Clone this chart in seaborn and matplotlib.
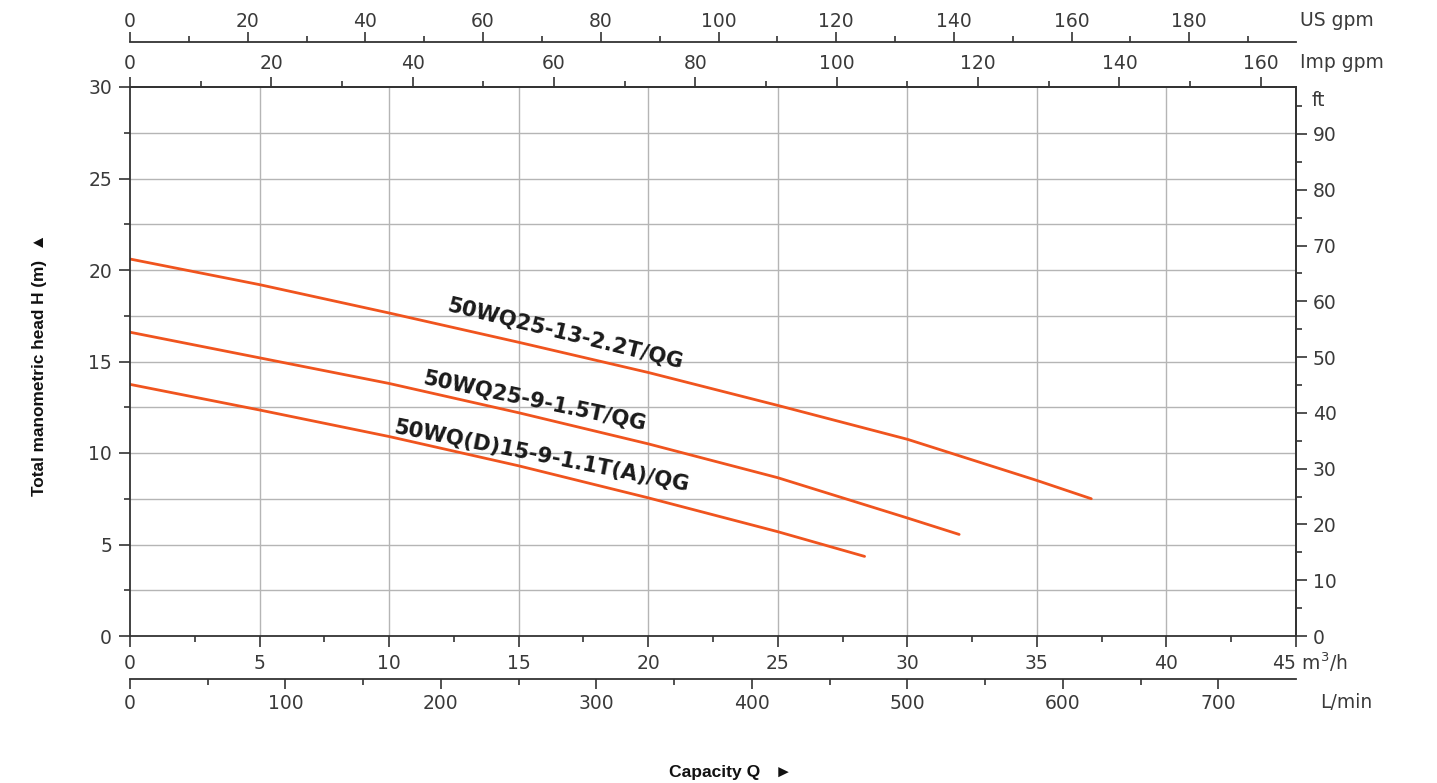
import matplotlib
matplotlib.use("Agg")
import matplotlib.pyplot as plt
from matplotlib.ticker import MultipleLocator, FixedLocator
import seaborn as sns
import pandas as pd
import numpy as np

# ---- data ----
models = ["50WQ25-13-2.2T/QG", "50WQ25-9-1.5T/QG", "50WQ(D)15-9-1.1T(A)/QG"]
q_1 = [0, 5, 10, 15, 20, 25, 30, 35, 37.1]
h_1 = [20.6, 19.2, 17.65, 16.05, 14.4, 12.6, 10.75, 8.5, 7.5]
q_2 = [0, 5, 10, 15, 20, 25, 30, 32.0]
h_2 = [16.6, 15.2, 13.8, 12.2, 10.5, 8.65, 6.45, 5.55]
q_3 = [0, 5, 10, 15, 20, 25, 28.35]
h_3 = [13.75, 12.35, 10.9, 9.3, 7.55, 5.7, 4.35]

label_pos = [(16.8, 16.5, 13.8), (15.6, 12.8, 11.8), (15.9, 9.8, 11.2)]

us_ticks = [0, 20, 40, 60, 80, 100, 120, 140, 160, 180]
us_minor = [10, 30, 50, 70, 90, 110, 130, 150, 170, 190]
imp_ticks = [0, 20, 40, 60, 80, 100, 120, 140, 160]
imp_minor = [10, 30, 50, 70, 90, 110, 130, 150]
lmin_ticks = [0, 100, 200, 300, 400, 500, 600, 700]
lmin_minor = [50, 150, 250, 350, 450, 550, 650]
ft_ticks = [0, 10, 20, 30, 40, 50, 60, 70, 80, 90]
ft_minor = [5, 15, 25, 35, 45, 55, 65, 75, 85, 95]

line_color = "#F0541E"
txt_color = "#3a3a3a"

frames = []
for m, q, h in zip(models, [q_1, q_2, q_3], [h_1, h_2, h_3]):
    frames.append(pd.DataFrame({"Q": q, "H": h, "model": m}))
df = pd.concat(frames, ignore_index=True)

sns.set_theme(style="white")
plt.rcParams["font.family"] = ["DejaVu Sans"]

W, H = 1437, 783
fig = plt.figure(figsize=(W / 100, H / 100), dpi=100)
x0, x1, y0, y1 = 130, 1296, 87, 636
ax = fig.add_axes([x0 / W, 1 - y1 / H, (x1 - x0) / W, (y1 - y0) / H])

sns.lineplot(data=df, x="Q", y="H", hue="model", units="model", estimator=None,
             palette=[line_color] * 3, linewidth=2.0, legend=False, ax=ax, sort=False)

ax.set_xlim(0, 45)
ax.set_ylim(0, 30)
ax.set_xlabel("")
ax.set_ylabel("")

# grid
ax.xaxis.set_major_locator(MultipleLocator(5))
ax.xaxis.set_minor_locator(MultipleLocator(2.5))
ax.yaxis.set_major_locator(MultipleLocator(5))
ax.yaxis.set_minor_locator(MultipleLocator(2.5))
for xv in np.arange(5, 45, 5):
    ax.axvline(xv, color="#b5b5b5", lw=1.0, zorder=0)
for yv in np.arange(2.5, 30, 2.5):
    ax.axhline(yv, color="#b5b5b5", lw=1.0, zorder=0)

for s in ax.spines.values():
    s.set_color("#333333")
    s.set_linewidth(1.3)

FS = 13.5
tick_kw = dict(colors="#333333", labelcolor=txt_color, labelsize=FS, direction="out")
ax.tick_params(axis="both", which="major", length=8, width=1.2, **tick_kw)
ax.tick_params(axis="both", which="minor", length=4, width=1.2, **tick_kw)
ax.tick_params(axis="x", which="both", bottom=True, top=False, pad=5)
ax.tick_params(axis="y", which="both", left=True, right=False, pad=5)
xt = np.arange(0, 46, 5)
ax.set_xticks(xt)
ax.set_xticklabels([str(int(v)) for v in xt[:-1]] + [""])
ax.text(45 - 24 / 25.91, -0.0474, "45 m$^3$/h", transform=ax.get_xaxis_transform(),
        ha="left", va="center", fontsize=FS, color=txt_color)

# ---- secondary axes ----
usgpm = 4.4029
impgpm = 3.6662
lmin = 16.6667
ft = 3.28084

sec_us = ax.secondary_xaxis((y1 - 42) / (y1 - y0),
                            functions=(lambda x: x * usgpm, lambda x: x / usgpm))
sec_imp = ax.secondary_xaxis("top", functions=(lambda x: x * impgpm, lambda x: x / impgpm))
sec_l = ax.secondary_xaxis(-(679 - y1) / (y1 - y0),
                           functions=(lambda x: x * lmin, lambda x: x / lmin))
sec_ft = ax.secondary_yaxis("right", functions=(lambda y: y * ft, lambda y: y / ft))

for sec, maj, mn in [(sec_us, us_ticks, us_minor), (sec_imp, imp_ticks, imp_minor),
                     (sec_l, lmin_ticks, lmin_minor)]:
    sec.xaxis.set_major_locator(FixedLocator(maj))
    sec.xaxis.set_minor_locator(FixedLocator(mn))
    sec.tick_params(axis="x", which="major", length=7, width=1.2, **tick_kw)
    sec.tick_params(axis="x", which="minor", length=4, width=1.2, **tick_kw)
    for s in sec.spines.values():
        s.set_color("#333333")
        s.set_linewidth(1.3)
sec_us.tick_params(axis="x", which="both", pad=1)
sec_imp.tick_params(axis="x", which="both", pad=3)
sec_l.tick_params(axis="x", which="both", pad=4)

sec_ft.yaxis.set_major_locator(FixedLocator(ft_ticks))
sec_ft.yaxis.set_minor_locator(FixedLocator(ft_minor))
sec_ft.tick_params(axis="y", which="major", length=8, width=1.2, pad=4, **tick_kw)
sec_ft.tick_params(axis="y", which="minor", length=4, width=1.2, **tick_kw)
for s in sec_ft.spines.values():
    s.set_color("#333333")
    s.set_linewidth(1.3)

# unit labels
ax.text(1 + 4 / 1166, (y1 - 21) / 549, "US gpm", transform=ax.transAxes,
        ha="left", va="center", fontsize=FS, color=txt_color)
ax.text(1 + 4 / 1166, (y1 - 62) / 549, "Imp gpm", transform=ax.transAxes,
        ha="left", va="center", fontsize=FS, color=txt_color)
ax.text(1 + 24 / 1166, (y1 - 702) / 549, "L/min", transform=ax.transAxes,
        ha="left", va="center", fontsize=FS, color=txt_color)
ax.text(1 + 16 / 1166, (y1 - 100) / 549, "ft", transform=ax.transAxes,
        ha="left", va="center", fontsize=FS, color=txt_color)

# curve labels
for m, (lx, ly, rot) in zip(models, label_pos):
    ax.text(lx, ly, m, rotation=-rot, rotation_mode="anchor", ha="center", va="center",
            fontsize=15.2, fontweight="bold", color="#1a1a1a")

# axis titles
fig.text(40 / W, 1 - 365 / H, "Total manometric head H (m)  \u25B2", rotation=90,
         ha="center", va="center", fontsize=12.4, fontweight="bold", color="#111111",
         family=["Liberation Sans", "DejaVu Sans"])
fig.text(731 / W, 1 - 772 / H, "Capacity Q   \u25BA",
         ha="center", va="center", fontsize=12.6, fontweight="bold", color="#111111",
         family=["Liberation Sans", "DejaVu Sans"])

fig.savefig("out.png", dpi=100)
